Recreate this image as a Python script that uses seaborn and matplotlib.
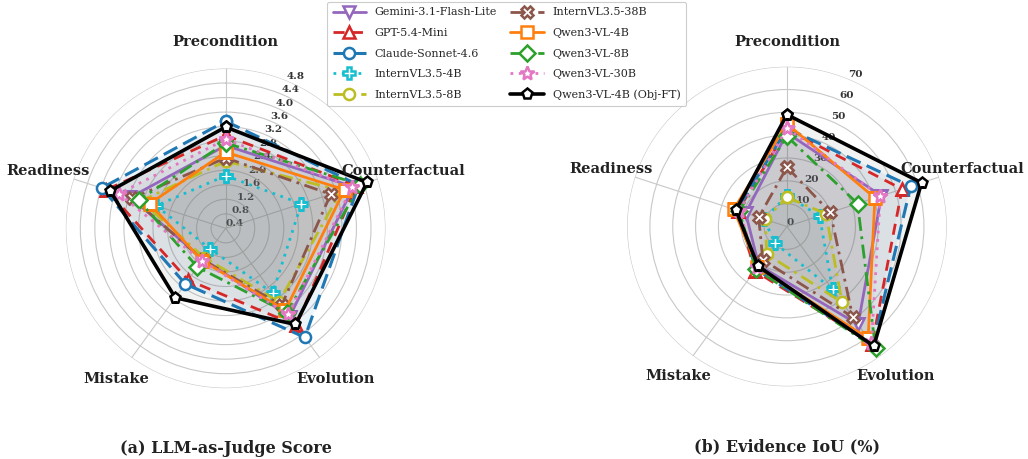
import numpy as np
import pandas as pd
import matplotlib
matplotlib.use("Agg")
import matplotlib.pyplot as plt
import seaborn as sns
from matplotlib.lines import Line2D
from matplotlib.colors import to_rgb

categories = ["Precondition", "Counterfactual", "Evolution", "Mistake", "Readiness"]

models = ["Gemini-3.1-Flash-Lite", "GPT-5.4-Mini", "Claude-Sonnet-4.6", "InternVL3.5-4B",
          "InternVL3.5-8B", "InternVL3.5-38B", "Qwen3-VL-4B", "Qwen3-VL-8B",
          "Qwen3-VL-30B", "Qwen3-VL-4B (Obj-FT)"]

# (a) LLM-as-Judge score
judge_gemini = [2.68, 4.10, 3.40, 1.45, 3.16]
judge_gpt = [2.96, 4.18, 3.70, 2.16, 3.85]
judge_claude = [3.35, 4.25, 4.11, 2.29, 3.99]
judge_intern4b = [1.85, 2.59, 2.60, 1.11, 2.41]
judge_intern8b = [2.25, 3.75, 2.90, 1.40, 2.85]
judge_intern38b = [2.34, 3.44, 3.02, 1.47, 3.10]
judge_qwen4b = [2.50, 3.84, 3.19, 1.50, 2.60]
judge_qwen8b = [2.75, 4.30, 3.27, 1.72, 2.92]
judge_qwen30b = [2.85, 4.06, 3.33, 1.51, 3.49]
judge_objft = [3.19, 4.49, 3.67, 2.76, 3.74]

# (b) Evidence IoU (%)
iou_gemini = [41.0, 43.5, 53.0, 21.0, 19.0]
iou_gpt = [42.5, 53.0, 63.5, 24.0, 22.5]
iou_claude = [43.0, 57.0, 64.0, 23.0, 23.0]
iou_intern4b = [13.5, 15.0, 34.0, 9.0, 10.5]
iou_intern8b = [12.8, 18.0, 41.0, 15.0, 10.0]
iou_intern38b = [26.0, 20.0, 49.0, 18.0, 13.0]
iou_qwen4b = [45.0, 40.5, 60.5, 22.0, 24.5]
iou_qwen8b = [39.5, 32.5, 66.0, 23.0, 22.0]
iou_qwen30b = [43.0, 43.0, 63.0, 22.0, 22.0]
iou_objft = [49.0, 62.0, 64.7, 21.5, 23.5]

judge_ticks = [0.4, 0.8, 1.2, 1.6, 2.0, 2.4, 2.8, 3.2, 3.6, 4.0, 4.4, 4.8]
iou_ticks = [0, 10, 20, 30, 40, 50, 60, 70]

panel_titles = ["(a) LLM-as-Judge Score", "(b) Evidence IoU (%)"]

judge_data = [judge_gemini, judge_gpt, judge_claude, judge_intern4b, judge_intern8b,
              judge_intern38b, judge_qwen4b, judge_qwen8b, judge_qwen30b, judge_objft]
iou_data = [iou_gemini, iou_gpt, iou_claude, iou_intern4b, iou_intern8b,
            iou_intern38b, iou_qwen4b, iou_qwen8b, iou_qwen30b, iou_objft]

sns.set_theme(style="white")
plt.rcParams["font.family"] = ["DejaVu Serif"]

tab = sns.color_palette("tab10")
styles = [
    dict(color=tab[4], ls="-", marker="v", lw=2.0, fa=0.05),
    dict(color=tab[3], ls=(0, (4, 2.6)), marker="^", lw=2.0, fa=0.05),
    dict(color=tab[0], ls=(0, (5, 2.2)), marker="o", lw=2.2, fa=0.08),
    dict(color=tab[9], ls=(0, (1, 2.0)), marker="P", lw=2.0, fa=0.05),
    dict(color=tab[8], ls=(0, (5, 2, 1, 2)), marker="o", lw=2.0, fa=0.05),
    dict(color=tab[5], ls=(0, (5, 2, 1, 2)), marker="X", lw=2.0, fa=0.05),
    dict(color=tab[1], ls="-", marker="s", lw=2.0, fa=0.05),
    dict(color=tab[2], ls=(0, (5, 2, 1, 2)), marker="D", lw=2.0, fa=0.05),
    dict(color=tab[6], ls=(0, (1, 2.0)), marker="*", lw=2.0, fa=0.05),
    dict(color="black", ls="-", marker="p", lw=2.6, fa=0.07),
]

def muted(c, k=0.6):
    r, g, b = to_rgb(c)
    return (r * (1 - k) + 0.45 * k, g * (1 - k) + 0.47 * k, b * (1 - k) + 0.5 * k)

fig = plt.figure(figsize=(10.28, 4.59), dpi=100)
ax1 = fig.add_axes([0.064, 0.154, 0.311, 0.697], projection="polar")
ax2 = fig.add_axes([0.610, 0.158, 0.311, 0.697], projection="polar")

n = len(categories)
angles = np.linspace(0, 2 * np.pi, n, endpoint=False)
closed = np.concatenate([angles, angles[:1]])

def draw(ax, data, ticks, rmin, rmax, label_r, title):
    ax.set_theta_zero_location("N")
    ax.set_theta_direction(-1)
    for name, vals, st in zip(models, data, styles):
        v = np.concatenate([vals, vals[:1]])
        df = pd.DataFrame({"theta": closed, "r": v})
        sns.lineplot(data=df, x="theta", y="r", ax=ax, sort=False, estimator=None,
                     color=st["color"], linestyle=st["ls"], linewidth=st["lw"],
                     marker=st["marker"], markersize=8 if st["marker"] != "*" else 10,
                     markerfacecolor="white", markeredgecolor=st["color"],
                     markeredgewidth=1.8, label=name, legend=False, zorder=3)
        fc = st["color"] if name == models[2] else muted(st["color"])
        ax.fill(closed, v, color=fc, alpha=st["fa"], zorder=2, linewidth=0)
    ax.set_xlabel("")
    ax.set_ylabel("")
    ax.set_ylim(rmin, rmax)
    ax.set_xticks(angles)
    ax.set_xticklabels([])
    ax.set_yticks(ticks)
    ax.set_yticklabels([f"{t:g}" if isinstance(t, int) else f"{t:.1f}" for t in ticks],
                       fontsize=7.5, fontweight="bold", color="#333333")
    ax.set_rlabel_position(22.5)
    ax.grid(True, color="#c8c8c8", linewidth=0.8)
    ax.spines["polar"].set_visible(False)
    for ang, cat in zip(angles, categories):
        ax.text(ang, label_r, cat, ha="center", va="center", fontsize=10.5,
                fontweight="bold", color="#222222", clip_on=False)
    ax.text(0.5, -0.19, title, transform=ax.transAxes, ha="center", va="center",
            fontsize=11.5, fontweight="bold", color="#222222")

draw(ax1, judge_data, judge_ticks, 0.4, 4.8, 0.4 + 187 / 36.4, panel_titles[0])
draw(ax2, iou_data, iou_ticks, 0, 70, 185 / 2.286, panel_titles[1])

handles = [Line2D([0], [0], color=st["color"], linestyle=st["ls"], linewidth=st["lw"],
                  marker=st["marker"], markersize=8 if st["marker"] != "*" else 10,
                  markerfacecolor="white", markeredgecolor=st["color"], markeredgewidth=1.8)
           for st in styles]
leg = fig.legend(handles, models, loc="upper center", bbox_to_anchor=(0.4927, 0.996),
                 ncol=2, fontsize=8, frameon=True, handlelength=3.0, columnspacing=1.2,
                 labelspacing=0.95, borderpad=0.5, borderaxespad=0.0, fancybox=True)
leg.get_frame().set_edgecolor("#c0c0c0")
leg.get_frame().set_linewidth(0.8)

fig.savefig("out.png", dpi=100)
